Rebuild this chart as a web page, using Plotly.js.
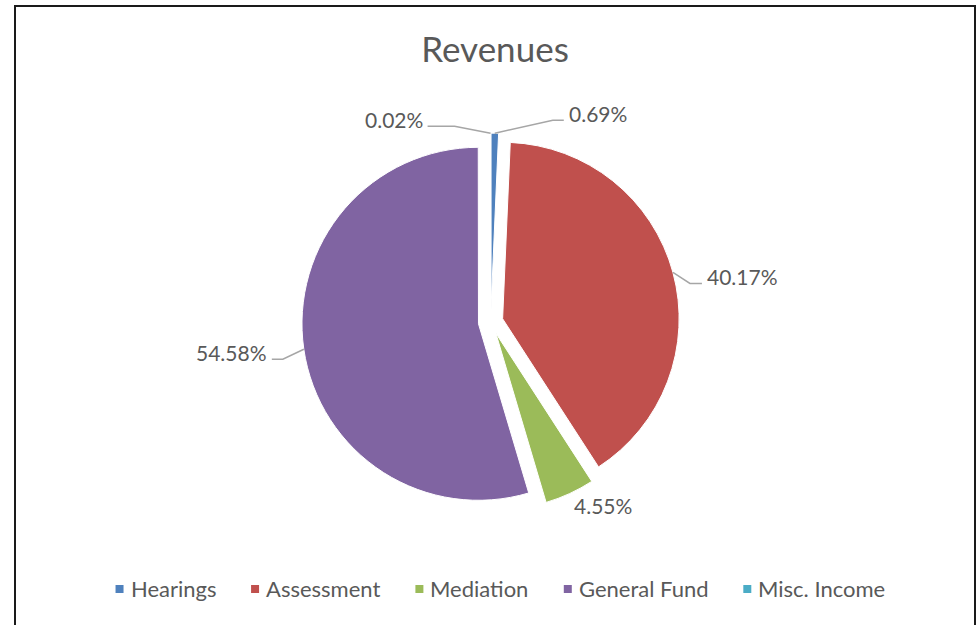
<!DOCTYPE html>
<html>
<head>
<meta charset="utf-8">
<script src="https://cdn.plot.ly/plotly-3.0.1.min.js"></script>
<style>html,body{margin:0;padding:0;background:#fff;}#chart{width:977px;height:625px;}</style>
</head>
<body>
<div id="chart"></div>
<script>
// ---- data ----
const categories = ['Hearings', 'Assessment', 'Mediation', 'General Fund', 'Misc. Income'];
const shares = [0.69, 40.17, 4.55, 54.58, 0.02];
const labelTexts = ['0.69%', '40.17%', '4.55%', '54.58%', '0.02%'];

// ---- styles / layout ----
const colors = ['#4f81bd', '#c0504d', '#9bbb59', '#8064a2', '#4bacc6'];
const W = 977, H = 625;
const pieCenter = [490.7, 322];   // px
const pieRadius = 176.5;          // px
const pullFrac = 0.07;
const pieBoxHalf = pieRadius * (1 + pullFrac);
// leader line shape per slice: [dx to elbow, dy to elbow, horizontal run] from slice edge (px); null = no line
const leaderShape = [[58, -13, 11], [17, 11, 12], null, [-21, 10, -11], [-36, -7, -27]];
const plainLabelOffset = [33, 12]; // for slices without leader line
const textColor = '#595959';
const font = 'Lato, "Open Sans", sans-serif';
const legendFontSize = 22, legendCenterX = 500, legendY = 589;
const legendMarker = 8, legendTextGap = 6, legendItemGap = 36;

const total = shares.reduce((a, b) => a + b, 0);
const rPx = pieRadius;
const pullPx = rPx * pullFrac;
const px = x => x / W, py = y => 1 - y / H;

const shapes = [];
const annotations = [];
let cum = 0;
shares.forEach((v, i) => {
  const mid = (cum + v / 2) / total * 2 * Math.PI;
  cum += v;
  const sx = Math.sin(mid), sy = -Math.cos(mid);
  const ex = pieCenter[0] + (pullPx + rPx) * sx;
  const ey = pieCenter[1] + (pullPx + rPx) * sy;
  const L = leaderShape[i];
  if (L) {
    const bx = ex + L[0], by = ey + L[1];
    const cx = bx + L[2];
    shapes.push({
      type: 'path', xref: 'paper', yref: 'paper',
      path: `M ${px(ex)},${py(ey)} L ${px(bx)},${py(by)} L ${px(cx)},${py(by)}`,
      line: {color: '#a6a6a6', width: 1.5}
    });
    const right = L[2] > 0;
    annotations.push({
      xref: 'paper', yref: 'paper', showarrow: false,
      x: px(cx + (right ? 3 : -3)), y: py(by - 6.5),
      xanchor: right ? 'left' : 'right', yanchor: 'middle',
      text: labelTexts[i], font: {family: font, size: 21, color: textColor}
    });
  } else {
    annotations.push({
      xref: 'paper', yref: 'paper', showarrow: false,
      x: px(ex + plainLabelOffset[0]), y: py(ey + plainLabelOffset[1]),
      xanchor: 'center', yanchor: 'middle',
      text: labelTexts[i], font: {family: font, size: 21, color: textColor}
    });
  }
});

// ---- legend (drawn manually for Excel-like spacing) ----
const ctx = document.createElement('canvas').getContext('2d');
ctx.font = `${legendFontSize}px Lato`;
const widths = categories.map(c => ctx.measureText(c).width);
const totalW = widths.reduce((a, b) => a + b, 0) +
  categories.length * (legendMarker + legendTextGap) + (categories.length - 1) * legendItemGap;
let lx = legendCenterX - totalW / 2;
categories.forEach((c, i) => {
  shapes.push({
    type: 'rect', xref: 'paper', yref: 'paper',
    x0: px(lx), x1: px(lx + legendMarker),
    y0: py(legendY + legendMarker / 2), y1: py(legendY - legendMarker / 2),
    fillcolor: colors[i], line: {width: 0}
  });
  const tx = lx + legendMarker + legendTextGap;
  annotations.push({
    xref: 'paper', yref: 'paper', showarrow: false,
    x: px(tx - 1), y: py(legendY - 0.5), xanchor: 'left', yanchor: 'middle',
    text: c, font: {family: font, size: legendFontSize, color: textColor}
  });
  lx = tx + widths[i] + legendItemGap;
});

// outer border
shapes.push({
  type: 'rect', xref: 'paper', yref: 'paper',
  x0: px(15), x1: px(975), y0: py(640), y1: py(6),
  line: {color: '#1a1a1a', width: 2}
});

const trace = {
  type: 'pie',
  labels: categories,
  values: shares,
  sort: false,
  direction: 'clockwise',
  rotation: 0,
  pull: shares.map(() => pullFrac),
  marker: {colors: colors, line: {color: '#ffffff', width: 1}},
  textinfo: 'none',
  hoverinfo: 'label+percent',
  domain: {
    x: [px(pieCenter[0] - pieBoxHalf), px(pieCenter[0] + pieBoxHalf)],
    y: [py(pieCenter[1] + pieBoxHalf), py(pieCenter[1] - pieBoxHalf)]
  }
};

const layout = {
  width: W, height: H,
  margin: {l: 0, r: 0, t: 0, b: 0},
  paper_bgcolor: '#ffffff',
  title: {
    text: 'Revenues', x: px(495), xanchor: 'center', y: py(50), yanchor: 'middle',
    font: {family: font, size: 35, color: textColor}
  },
  showlegend: false,
  shapes: shapes,
  annotations: annotations
};

Plotly.newPlot('chart', [trace], layout, {displayModeBar: false, staticPlot: true});
</script>
</body>
</html>
